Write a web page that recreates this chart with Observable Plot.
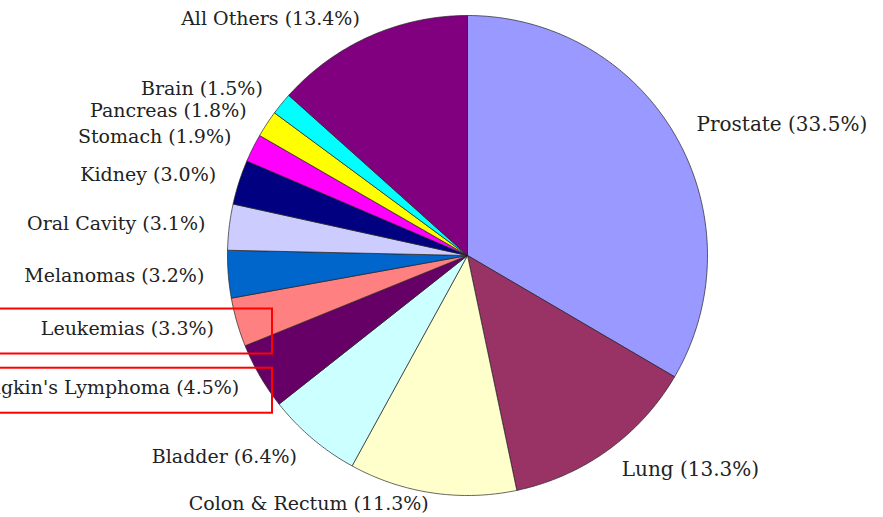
<!DOCTYPE html>
<html>
<head>
<meta charset="utf-8">
<script src="https://cdn.jsdelivr.net/npm/d3@7"></script>
<script src="https://cdn.jsdelivr.net/npm/@observablehq/plot@0.6"></script>
<style>
  html, body { margin: 0; padding: 0; background: #ffffff; }
  #chart svg { display: block; }
  #chart svg, #chart svg text { font-family: "DejaVu Serif", serif !important; }
</style>
</head>
<body>
<div id="chart"></div>
<script>
// ---- data ----
const categories = ["Prostate", "Lung", "Colon & Rectum", "Bladder", "Non-Hodgkin's Lymphoma",
  "Leukemias", "Melanomas", "Oral Cavity", "Kidney", "Stomach", "Pancreas", "Brain", "All Others"];
const shares = [33.5, 13.3, 11.3, 6.4, 4.5, 3.3, 3.2, 3.1, 3.0, 1.9, 1.8, 1.5, 13.4];
const sliceColors = ["#9999ff", "#993366", "#ffffcc", "#ccffff", "#660066", "#ff8080", "#0066cc",
  "#ccccff", "#000080", "#ff00ff", "#ffff00", "#00ffff", "#800080"];
const highlighted = ["Leukemias", "Non-Hodgkin's Lymphoma"];

// ---- layout ----
const W = 883, H = 517;
const cx = 467, cy = 255, R = 240;           // pie centre and radius, pixels
const xDomain = [(0 - cx) / R, (W - cx) / R];
const yDomain = [-(H - cy) / R, cy / R];
const labelR = 1.1;
const yMin = -(503 - cy) / R, yMax = (cy - 18) / R;

const arcs = d3.pie().sort(null).value(d => d)(shares);

const slicePts = [];
arcs.forEach((a, i) => {
  const n = Math.max(4, Math.ceil((a.endAngle - a.startAngle) / 0.01));
  slicePts.push({name: categories[i], x: 0, y: 0});
  for (let k = 0; k <= n; k++) {
    const t = a.startAngle + (a.endAngle - a.startAngle) * k / n;
    slicePts.push({name: categories[i], x: Math.sin(t), y: Math.cos(t)});
  }
  slicePts.push({name: categories[i], x: 0, y: 0});
});

const labels = arcs.map((a, i) => {
  const m = (a.startAngle + a.endAngle) / 2;
  return {
    name: categories[i],
    text: `${categories[i]} (${shares[i].toFixed(1)}%)`,
    x: labelR * Math.sin(m),
    y: Math.max(yMin, Math.min(yMax, labelR * Math.cos(m))),
    right: m < Math.PI
  };
});

const boxes = labels.filter(d => highlighted.includes(d.name)).map(d => ({
  x1: xDomain[0] - 0.05, x2: (272 - cx) / R, y1: d.y - 25 / R, y2: d.y + 20 / R
}));

const chart = Plot.plot({
  width: W, height: H,
  margin: 0,
  x: {domain: xDomain, axis: null},
  y: {domain: yDomain, axis: null},
  color: {domain: categories, range: sliceColors},
  style: {background: "#ffffff", color: "#222"},
  marks: [
    Plot.line(slicePts, {x: "x", y: "y", z: "name", fill: "name", stroke: "#222", strokeWidth: 0.7, curve: "linear"}),
    Plot.text(labels.filter(d => d.right), {x: "x", y: "y", text: "text", textAnchor: "start", fill: "#222", fontFamily: "DejaVu Serif", fontSize: 20}),
    Plot.text(labels.filter(d => !d.right), {x: "x", y: "y", text: "text", textAnchor: "end", fill: "#222", fontFamily: "DejaVu Serif", fontSize: 19, letterSpacing: "1px"}),
    Plot.rect(boxes, {x1: "x1", x2: "x2", y1: "y1", y2: "y2", fill: "none", stroke: "#ff0000", strokeWidth: 2})
  ]
});
document.getElementById("chart").appendChild(chart);
</script>
</body>
</html>
